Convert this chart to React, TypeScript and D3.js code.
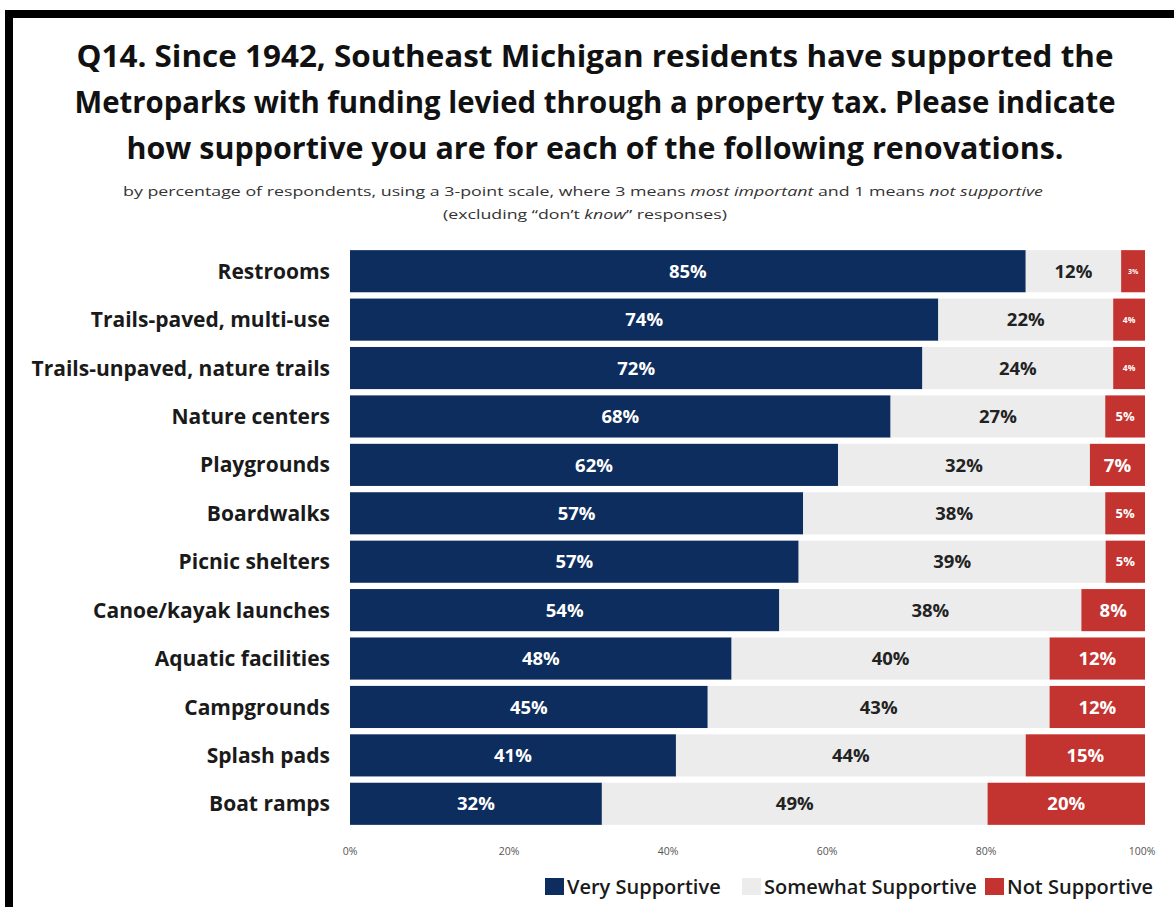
import { scaleBand, scaleLinear } from "d3";

const categories = [
  "Restrooms",
  "Trails-paved, multi-use",
  "Trails-unpaved, nature trails",
  "Nature centers",
  "Playgrounds",
  "Boardwalks",
  "Picnic shelters",
  "Canoe/kayak launches",
  "Aquatic facilities",
  "Campgrounds",
  "Splash pads",
  "Boat ramps",
];
const verySupportive = [85, 74, 72, 68, 62, 57, 57, 54, 48, 45, 41, 32];
const somewhatSupportive = [12, 22, 24, 27, 32, 38, 39, 38, 40, 43, 44, 49];
const notSupportive = [3, 4, 4, 5, 7, 5, 5, 8, 12, 12, 15, 20];
const seriesNames = ["Very Supportive", "Somewhat Supportive", "Not Supportive"];
const tickValues = [0, 20, 40, 60, 80, 100];

const titleLines = [
  "Q14. Since 1942, Southeast Michigan residents have supported the",
  "Metroparks with funding levied through a property tax. Please indicate",
  "how supportive you are for each of the following renovations.",
];
// rough pixel widths of the title lines in the reference
const titleWidths = [1037, 1041, 937];

const colors = ["#0c2d5e", "#ececec", "#c3332f"];
const labelColors = ["#ffffff", "#222222", "#ffffff"];
const font = "'Open Sans', Lato, sans-serif";

export default function App() {
  const width = 1174;
  const height = 907;
  const x = scaleLinear().domain([0, 100]).range([350, 1145]);
  const y = scaleBand<string>()
    .domain(categories)
    .range([247, 828])
    .paddingInner(0.13)
    .paddingOuter(0.065);

  // bars are stacked as shares of each row's own total (some rows add to 101)
  const rows = categories.map((cat, i) => {
    const vals = [verySupportive[i], somewhatSupportive[i], notSupportive[i]];
    const total = vals[0] + vals[1] + vals[2];
    let acc = 0;
    const segs = vals.map((v, k) => {
      const start = (acc / total) * 100;
      acc += v;
      const end = (acc / total) * 100;
      return { k, v, start, end };
    });
    return { cat, segs };
  });

  const labelSize = (w: number) => (w < 28 ? 7 : w < 36 ? 8.5 : w < 46 ? 13 : 18.5);

  return (
    <div style={{ position: "absolute", left: 0, top: 0 }}>
      <svg width={width} height={height} style={{ display: "block", background: "#fff" }}>
        {/* frame */}
        <rect x={5} y={10} width={width} height={8} fill="#000" />
        <rect x={5} y={10} width={8} height={height} fill="#000" />

        {titleLines.map((t, i) => (
          <text
            key={i}
            x={595}
            y={67 + i * 46}
            textAnchor="middle"
            fontFamily={font}
            fontWeight={700}
            fontSize={29.5}
            fill="#111"
            textLength={titleWidths[i]}
            lengthAdjust="spacingAndGlyphs"
          >
            {t}
          </text>
        ))}
        <text
          x={583}
          y={196}
          textAnchor="middle"
          fontFamily={font}
          fontSize={13.5}
          fill="#333"
          textLength={920}
          lengthAdjust="spacingAndGlyphs"
        >
          by percentage of respondents, using a 3-point scale, where 3 means{" "}
          <tspan fontStyle="italic">most important</tspan> and 1 means{" "}
          <tspan fontStyle="italic">not supportive</tspan>
        </text>
        <text
          x={585}
          y={219}
          textAnchor="middle"
          fontFamily={font}
          fontSize={13.5}
          fill="#333"
          textLength={284}
          lengthAdjust="spacingAndGlyphs"
        >
          (excluding “don’t <tspan fontStyle="italic">know</tspan>” responses)
        </text>

        {rows.map((r) => {
          const by = y(r.cat) ?? 0;
          const bh = y.bandwidth();
          return (
            <g key={r.cat}>
              <text
                x={330}
                y={by + bh / 2}
                dy="0.36em"
                textAnchor="end"
                fontFamily={font}
                fontWeight={700}
                fontSize={21}
                fill="#1a1a1a"
              >
                {r.cat}
              </text>
              {r.segs.map((s) => {
                const x0 = x(s.start);
                const x1 = x(s.end);
                const w = x1 - x0;
                return (
                  <g key={s.k}>
                    <rect x={x0} y={by} width={w} height={bh} fill={colors[s.k]} />
                    <text
                      x={(x0 + x1) / 2}
                      y={by + bh / 2}
                      dy="0.36em"
                      textAnchor="middle"
                      fontFamily={font}
                      fontWeight={700}
                      fontSize={labelSize(w)}
                      fill={labelColors[s.k]}
                    >
                      {s.v}%
                    </text>
                  </g>
                );
              })}
            </g>
          );
        })}

        {tickValues.map((t) => (
          <text
            key={t}
            x={x(t) - (t === 100 ? 3 : 0)}
            y={855}
            textAnchor="middle"
            fontFamily={font}
            fontSize={10.5}
            fill="#555"
          >
            {t}%
          </text>
        ))}

        {seriesNames.map((name, k) => {
          const lx = [545, 742, 985][k];
          return (
            <g key={name}>
              <rect x={lx} y={878} width={19} height={17} fill={colors[k]} />
              <text
                x={lx + 22}
                y={894}
                fontFamily={font}
                fontWeight={600}
                fontSize={20}
                fill="#1a1a1a"
              >
                {name}
              </text>
            </g>
          );
        })}
      </svg>
    </div>
  );
}
